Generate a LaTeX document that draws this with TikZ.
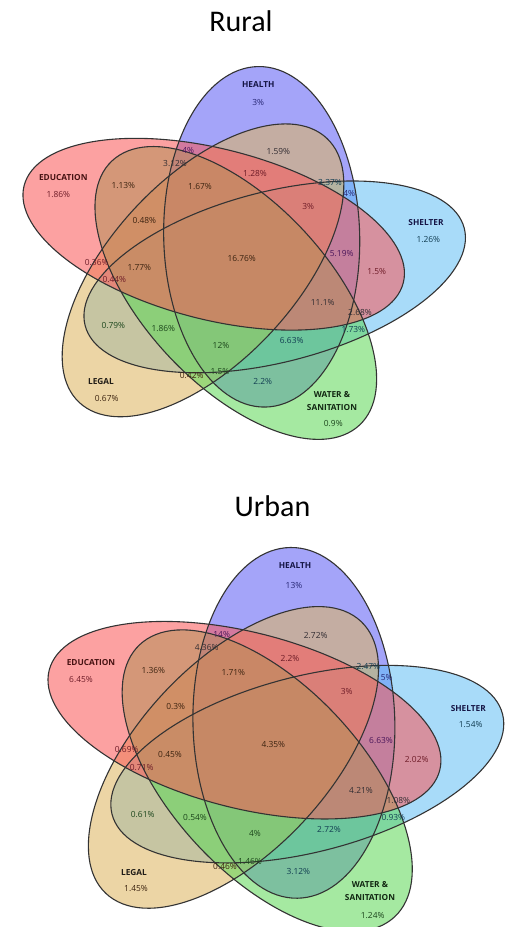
\documentclass[tikz,border=0pt]{standalone}
\usepackage{fontspec}
\setmainfont{Open Sans}
\newfontfamily\titrefont{Carlito}
% Couleurs des ensembles :
\definecolor{coulSante}{RGB}{92,92,245}
\definecolor{coulEdu}{RGB}{250,88,88}
\definecolor{coulAbri}{RGB}{100,190,245}
\definecolor{coulEau}{RGB}{95,215,88}
\definecolor{coulLegal}{RGB}{222,180,95}
% Couleurs des textes :
\definecolor{txtRouge}{RGB}{110,28,40}
\definecolor{txtBleu}{RGB}{38,38,115}
\definecolor{txtVert}{RGB}{28,70,28}
\definecolor{txtBrun}{RGB}{60,36,16}
\definecolor{txtGris}{RGB}{50,45,50}
\definecolor{txtPourpre}{RGB}{75,22,90}
\definecolor{txtSarcelle}{RGB}{18,62,82}
\definecolor{nomRouge}{RGB}{70,18,18}
\definecolor{nomBleu}{RGB}{22,22,70}
\definecolor{nomVert}{RGB}{18,40,18}
\definecolor{nomNoir}{RGB}{32,28,22}
% Les cinq ellipses (repere local, centre du diagramme a l'origine) :
\newcommand{\cinqEllipses}{%
	\foreach \cx/\cy/\ang/\coul in {20/25/91/coulSante,33/-21.6/18/coulAbri,-38.7/-14/234/coulLegal,-5.9/-40.3/306/coulEau,-28/28/162/coulEdu}
		\fill[\coul,ens,shift={(\cx,\cy)},rotate=\ang] (0,0) ellipse (198 and 98);
	\foreach \cx/\cy/\ang in {20/25/91,33/-21.6/18,-38.7/-14/234,-5.9/-40.3/306,-28/28/162}
		\draw[bord,shift={(\cx,\cy)},rotate=\ang] (0,0) ellipse (198 and 98);
}
\begin{document}
\begin{tikzpicture}[x=1pt,y=-1pt,
	ens/.style={fill opacity=0.56},
	bord/.style={draw=black!80,line width=1.1pt},
	pct/.style={font=\fontsize{8.4}{9}\selectfont,text=#1},
	pct/.default=txtGris,
	nom/.style={font=\bfseries\fontsize{8.3}{13}\selectfont,text=#1,align=center},
	titre/.style={font=\titrefont\fontsize{30}{36}\selectfont,anchor=base}]
\useasboundingbox (0,0) rectangle (510,927);
%	Titres :
\draw (241,31.7) node[titre] (titreRural) {Rural};
\draw (272.5,516) node[titre] (titreUrbain) {Urban};
%	Trace des ellipses (rural) :
\begin{scope}[shift={(241.7,258.3)},x=1pt,y=1pt,yscale=0.86]
	\cinqEllipses
\end{scope}
%	Trace des ellipses (urbain) :
\begin{scope}[shift={(273.3,745)},x=1.03pt,y=1.03pt,yscale=0.86]
	\cinqEllipses
\end{scope}
%	Etiquettes (rural) :
\draw (258.3,84.3) node[nom=nomBleu] (rSante) {HEALTH};
\draw (258.3,102.7) node[pct=txtBleu] (r01) {3\%};
\draw (278.3,151.7) node[pct] (r02) {1.59\%};
\draw (188.3,150.7) node[pct=txtPourpre] (r03) {4\%};
\draw (175,163.3) node[pct] (r04) {3.12\%};
\draw (255,174) node[pct=txtRouge] (r05) {1.28\%};
\draw (200,186.7) node[pct=txtBrun] (r06) {1.67\%};
\draw (123.3,186) node[pct=txtBrun] (r07) {1.13\%};
\draw (63.3,177.7) node[nom=nomRouge] (rEdu) {EDUCATION};
\draw (58.3,195) node[pct=txtRouge] (r08) {1.86\%};
\draw (330,182.7) node[pct=txtSarcelle] (r09) {3.37\%};
\draw (349.3,193.3) node[pct=txtBleu] (r10) {4\%};
\draw (308.3,206) node[pct=txtRouge] (r11) {3\%};
\draw (426,222.3) node[nom=nomBleu] (rAbri) {SHELTER};
\draw (428.3,239.3) node[pct=txtSarcelle] (r12) {1.26\%};
\draw (144.3,220.7) node[pct=txtBrun] (r13) {0.48\%};
\draw (241.7,258.3) node[pct=txtBrun] (r14) {16.76\%};
\draw (341.7,254) node[pct=txtPourpre] (r15) {5.19\%};
\draw (376.7,271.7) node[pct=txtRouge] (r16) {1.5\%};
\draw (96.7,262.7) node[pct=txtRouge] (r17) {0.36\%};
\draw (139.3,267.7) node[pct=txtBrun] (r18) {1.77\%};
\draw (114.3,280) node[pct=txtRouge] (r19) {0.44\%};
\draw (322.7,302.3) node[pct] (r20) {11.1\%};
\draw (360,312.7) node[pct] (r21) {2.68\%};
\draw (353.3,329.3) node[pct=txtSarcelle] (r22) {1.73\%};
\draw (113.3,326) node[pct=txtVert] (r23) {0.79\%};
\draw (163.3,328.3) node[pct=txtVert] (r24) {1.86\%};
\draw (221,345) node[pct=txtVert] (r25) {12\%};
\draw (291.7,341) node[pct=txtSarcelle] (r26) {6.63\%};
\draw (191.7,376) node[pct=txtBrun] (r27) {0.42\%};
\draw (220,371.7) node[pct=txtVert] (r28) {1.5\%};
\draw (262.7,381.7) node[pct=txtSarcelle] (r29) {2.2\%};
\draw (101,381.7) node[nom=nomNoir] (rLegal) {LEGAL};
\draw (106.7,398.3) node[pct=txtBrun] (r30) {0.67\%};
\draw (332,400.8) node[nom=nomVert] (rEau) {WATER \&\\SANITATION};
\draw (333.3,424) node[pct=txtVert] (r31) {0.9\%};
%	Etiquettes (urbain) :
\draw (295,566) node[nom=nomBleu] (uSante) {HEALTH};
\draw (294,585) node[pct=txtBleu] (u01) {13\%};
\draw (221.7,634.3) node[pct=txtPourpre] (u02) {14\%};
\draw (206.7,647.3) node[pct] (u03) {4.36\%};
\draw (315.7,636) node[pct] (u04) {2.72\%};
\draw (290,658.3) node[pct=txtRouge] (u05) {2.2\%};
\draw (233.3,672.3) node[pct=txtBrun] (u06) {1.71\%};
\draw (153.3,671) node[pct=txtBrun] (u07) {1.36\%};
\draw (91,662.3) node[nom=nomRouge] (uEdu) {EDUCATION};
\draw (81,679.3) node[pct=txtRouge] (u08) {6.45\%};
\draw (368.3,666.7) node[pct=txtSarcelle] (u09) {2.47\%};
\draw (386.7,677.7) node[pct=txtBleu] (u10) {5\%};
\draw (346.7,691) node[pct=txtRouge] (u11) {3\%};
\draw (468.3,708.3) node[nom=nomBleu] (uAbri) {SHELTER};
\draw (470.7,725) node[pct=txtSarcelle] (u12) {1.54\%};
\draw (175.7,706.7) node[pct=txtBrun] (u13) {0.3\%};
\draw (273.3,745) node[pct=txtBrun] (u14) {4.35\%};
\draw (381,740.7) node[pct=txtPourpre] (u15) {6.63\%};
\draw (416.7,759.3) node[pct=txtRouge] (u16) {2.02\%};
\draw (126.7,750) node[pct=txtRouge] (u17) {0.69\%};
\draw (170,754.3) node[pct=txtBrun] (u18) {0.45\%};
\draw (141.7,767.7) node[pct=txtRouge] (u19) {0.71\%};
\draw (361,790.7) node[pct] (u20) {4.21\%};
\draw (398.3,800.7) node[pct] (u21) {1.08\%};
\draw (393.3,817.7) node[pct=txtSarcelle] (u22) {0.93\%};
\draw (142.7,815) node[pct=txtVert] (u23) {0.61\%};
\draw (195,817.7) node[pct=txtVert] (u24) {0.54\%};
\draw (255,833.3) node[pct=txtVert] (u25) {4\%};
\draw (329,830) node[pct=txtSarcelle] (u26) {2.72\%};
\draw (225,866.7) node[pct=txtBrun] (u27) {0.46\%};
\draw (250,861.7) node[pct=txtVert] (u28) {1.46\%};
\draw (298.3,871.7) node[pct=txtSarcelle] (u29) {3.12\%};
\draw (134,872.3) node[nom=nomNoir] (uLegal) {LEGAL};
\draw (136,889) node[pct=txtBrun] (u30) {1.45\%};
\draw (370,891) node[nom=nomVert] (uEau) {WATER \&\\SANITATION};
\draw (372.7,915.7) node[pct=txtVert] (u31) {1.24\%};
\end{tikzpicture}
\end{document}
